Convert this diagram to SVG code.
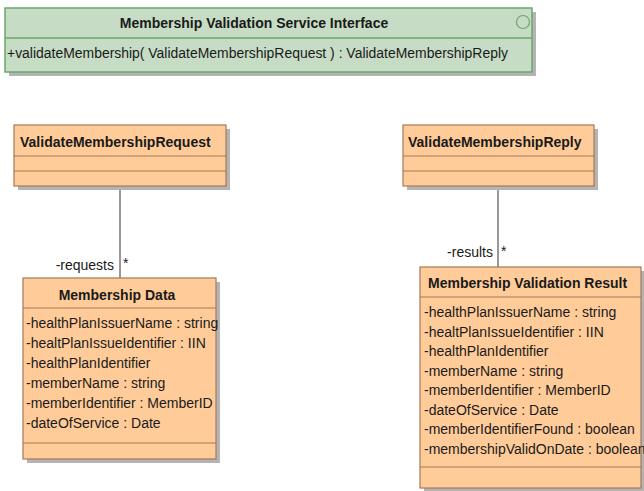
<svg xmlns="http://www.w3.org/2000/svg" width="644" height="491" viewBox="0 0 644 491">
<style>
text{font-family:"Liberation Sans",Arial,sans-serif;font-size:14px;fill:#1a1a1a}
.b{font-weight:bold}
.shadow{fill:#b4b4b4}
.cls{fill:#ffcc99;stroke:#a5785a;stroke-width:1.2}
.div{stroke:#a5785a;stroke-width:1.2}
.ifc{fill:#c6dcc4;stroke:#6aa86a;stroke-width:1.5}
.idiv{stroke:#6aa86a;stroke-width:1.5}
.conn{stroke:#333;stroke-width:1;fill:none}
</style>
<g id="interface">
<rect class="shadow" x="9" y="12" width="527" height="64"/>
<rect class="ifc" x="5" y="8" width="527" height="64"/>
<line class="idiv" x1="5" y1="38" x2="532" y2="38"/>
<circle cx="523" cy="22" r="6.5" fill="none" stroke="#6aa86a" stroke-width="1.2"/>
<text class="b" x="254" y="28" text-anchor="middle">Membership Validation Service Interface</text>
<text x="7" y="58" textLength="501" lengthAdjust="spacingAndGlyphs">+validateMembership( ValidateMembershipRequest ) : ValidateMembershipReply</text>
</g>
<g id="connectors">
<line class="conn" x1="120" y1="186" x2="120" y2="278"/>
<text x="114" y="270" text-anchor="end">-requests</text>
<text x="123" y="268">*</text>
<line class="conn" x1="498" y1="186" x2="498" y2="267"/>
<text x="493" y="257" text-anchor="end">-results</text>
<text x="501" y="256">*</text>
</g>
<g id="request">
<rect class="shadow" x="18" y="129" width="212" height="61"/>
<rect class="cls" x="14" y="125" width="212" height="61"/>
<line class="div" x1="14" y1="156" x2="226" y2="156"/>
<line class="div" x1="14" y1="171" x2="226" y2="171"/>
<text class="b" x="20" y="147">ValidateMembershipRequest</text>
</g>
<g id="reply">
<rect class="shadow" x="407" y="129" width="191" height="61"/>
<rect class="cls" x="403" y="125" width="191" height="61"/>
<line class="div" x1="403" y1="156" x2="594" y2="156"/>
<line class="div" x1="403" y1="171" x2="594" y2="171"/>
<text class="b" x="408" y="147">ValidateMembershipReply</text>
</g>
<g id="membershipData">
<rect class="shadow" x="27" y="282" width="193" height="181"/>
<rect class="cls" x="23" y="278" width="193" height="181"/>
<line class="div" x1="23" y1="308" x2="216" y2="308"/>
<line class="div" x1="23" y1="443" x2="216" y2="443"/>
<text class="b" x="117" y="300" text-anchor="middle">Membership Data</text>
<text x="26" y="328">-healthPlanIssuerName : string</text>
<text x="26" y="348">-healtPlanIssueIdentifier : IIN</text>
<text x="26" y="368">-healthPlanIdentifier</text>
<text x="26" y="388">-memberName : string</text>
<text x="26" y="408">-memberIdentifier : MemberID</text>
<text x="26" y="428">-dateOfService : Date</text>
</g>
<g id="validationResult">
<rect class="shadow" x="424" y="271" width="221" height="221"/>
<rect class="cls" x="420" y="267" width="221" height="221"/>
<line class="div" x1="420" y1="297" x2="641" y2="297"/>
<line class="div" x1="420" y1="467" x2="641" y2="467"/>
<text class="b" x="428" y="288">Membership Validation Result</text>
<text x="424" y="317">-healthPlanIssuerName : string</text>
<text x="424" y="336.5">-healtPlanIssueIdentifier : IIN</text>
<text x="424" y="356">-healthPlanIdentifier</text>
<text x="424" y="375.5">-memberName : string</text>
<text x="424" y="395">-memberIdentifier : MemberID</text>
<text x="424" y="414.5">-dateOfService : Date</text>
<text x="424" y="434">-memberIdentifierFound : boolean</text>
<text x="424" y="453.5">-membershipValidOnDate : boolean</text>
</g>
</svg>
